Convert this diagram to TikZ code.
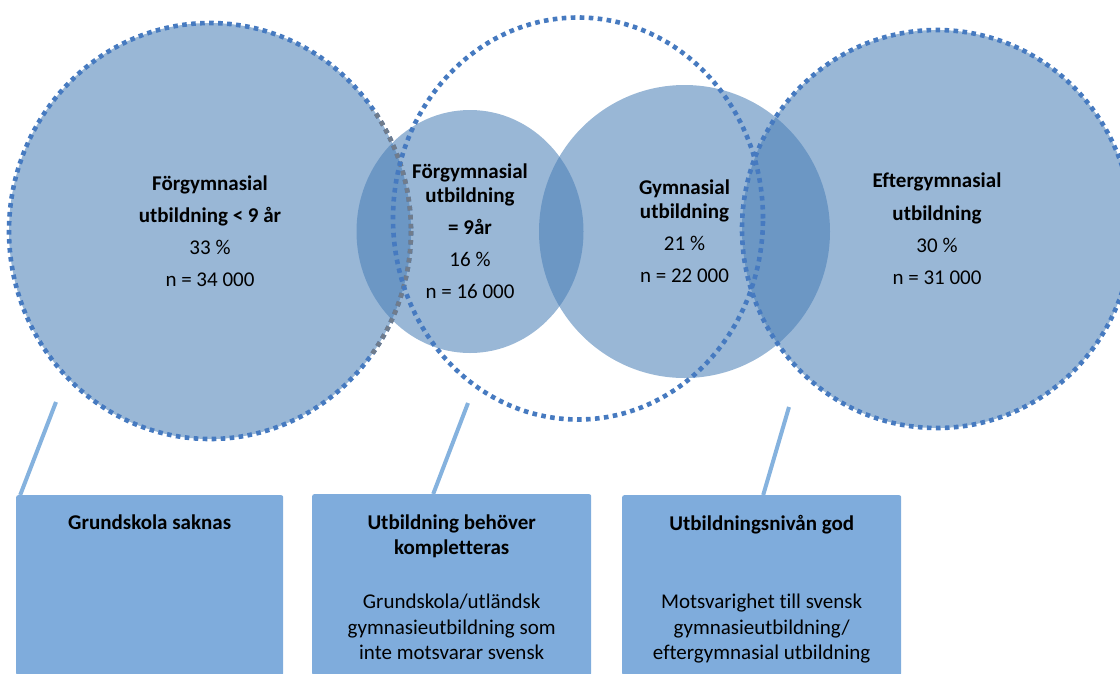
\documentclass[tikz,border=0pt]{standalone}
\usepackage{fontspec}
\setmainfont{Carlito}[Ligatures={NoCommon}]
\usetikzlibrary{shapes.geometric}
\definecolor{circfill}{RGB}{75,128,183}
\definecolor{dotblue}{RGB}{70,122,192}
\definecolor{boxfill}{RGB}{127,172,220}
\definecolor{linkblue}{RGB}{133,178,222}
\definecolor{greydot}{RGB}{112,124,140}
\begin{document}
\begin{tikzpicture}[x=1pt,y=-1pt,
  venn/.style={ellipse, inner sep=0pt, fill=circfill, fill opacity=0.57, text opacity=1,
               align=center, font=\fontsize{21}{24}\selectfont},
  dotrim/.style={draw=dotblue, line width=4.6pt, dash pattern=on 4.6pt off 4.4pt},
  infobox/.style={rectangle, fill=boxfill, rounded corners=2pt, inner sep=0pt, anchor=north west},
  link/.style={draw=linkblue, line width=4pt},
  boxtitle/.style={font=\fontsize{21}{25}\selectfont\bfseries, align=center, inner sep=0pt, anchor=north},
  boxbody/.style={font=\fontsize{21}{25.5}\selectfont, align=center, inner sep=0pt, anchor=north}]
\useasboundingbox (0,0) rectangle (1120,673);

% left circle
\node[venn, minimum width=402pt, minimum height=416pt] (left) at (210,231)
  {\textbf{Förgymnasial}\\[8pt]\textbf{utbildning < 9 år}\\[8pt]33 \%\\[8pt]n = 34 000};
\draw[dotrim] (left.center) ellipse [x radius=201, y radius=208];

% small circle
\node[venn, minimum width=227pt, minimum height=243pt] (mid) at (470,231.5)
  {\textbf{Förgymnasial}\\\textbf{utbildning}\\[8pt]\textbf{= 9år}\\[8pt]16 \%\\[8pt]n = 16 000};
\begin{scope}
  \clip (350,110) rectangle (538,353);
  \draw[dotrim, draw=greydot] (left.center) ellipse [x radius=201, y radius=208];
\end{scope}

% gymnasial circle
\node[venn, minimum width=291pt, minimum height=293pt] (gym) at (684.5,231.5)
  {\textbf{Gymnasial}\\\textbf{utbildning}\\[8pt]21 \%\\[8pt]n = 22 000};

% right circle
\node[venn, minimum width=390pt, minimum height=398pt] (eft) at (937,229)
  {\textbf{Eftergymnasial}\\[9pt]\textbf{utbildning}\\[8pt]30 \%\\[8pt]n = 31 000};
\draw[dotrim] (eft.center) ellipse [x radius=195, y radius=199];

% outline ring
\node[ellipse, inner sep=0pt, minimum width=370pt, minimum height=402pt, dotrim] (ring) at (578,218.5) {};

% boxes
\node[infobox, minimum width=267pt, minimum height=180pt] (b1) at (16,495) {};
\node[infobox, minimum width=279pt, minimum height=181pt] (b2) at (312,494) {};
\node[infobox, minimum width=279pt, minimum height=180pt] (b3) at (622,495) {};

% connectors
\coordinate (p1) at (56,402);
\coordinate (p2) at (468,403);
\coordinate (p3) at (789,407);
\draw[link] (p1) -- ([xshift=-129.5pt]b1.north);
\draw[link] (p2) -- ([xshift=-18.5pt]b2.north);
\draw[link] (p3) -- ([xshift=1.5pt]b3.north);

% box texts
\node[boxtitle] (t1) at ([yshift=-20pt]b1.north) {Grundskola saknas};
\node[boxtitle] (t2a) at ([yshift=-21pt]b2.north) {Utbildning behöver\\kompletteras};
\node[boxbody] (t2b) at ([yshift=-100pt]b2.north) {Grundskola/utländsk\\gymnasieutbildning som\\inte motsvarar svensk};
\node[boxtitle] (t3a) at ([yshift=-20pt]b3.north) {Utbildningsnivån god};
\node[boxbody] (t3b) at ([yshift=-99pt]b3.north) {Motsvarighet till svensk\\gymnasieutbildning/\\eftergymnasial utbildning};
\end{tikzpicture}
\end{document}
